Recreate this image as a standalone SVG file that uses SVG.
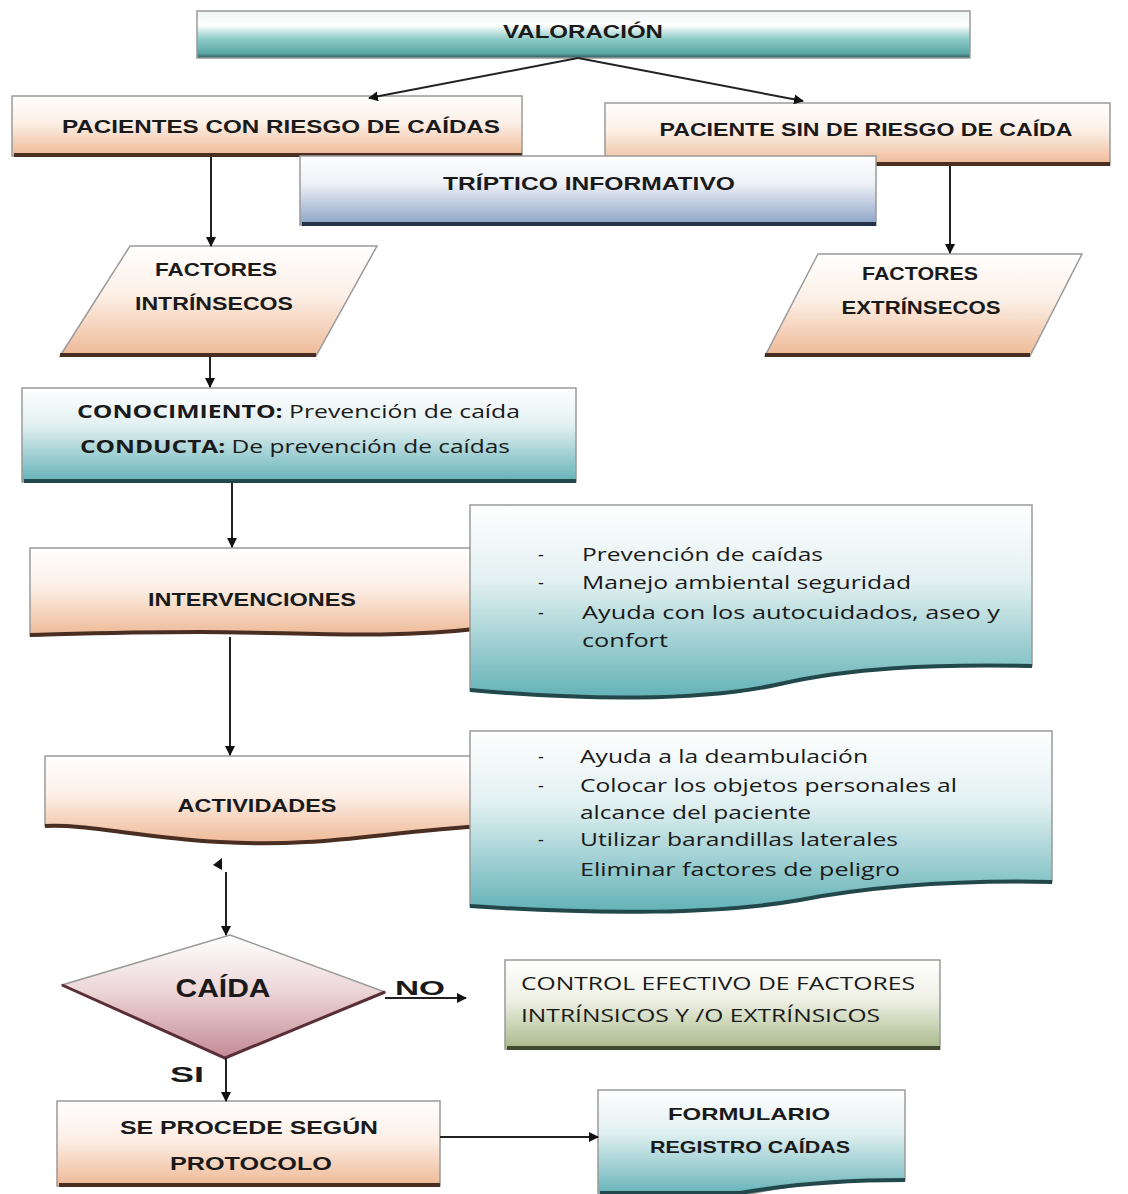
<svg xmlns="http://www.w3.org/2000/svg" width="1128" height="1194" viewBox="0 0 1128 1194">
<defs>
<linearGradient id="peach" x1="0" y1="0" x2="0" y2="1">
<stop offset="0" stop-color="#ffffff"/><stop offset="0.45" stop-color="#fcefe6"/><stop offset="1" stop-color="#eeb996"/>
</linearGradient>
<linearGradient id="teal" x1="0" y1="0" x2="0" y2="1">
<stop offset="0" stop-color="#ffffff"/><stop offset="0.4" stop-color="#e2f0f1"/><stop offset="1" stop-color="#63b2b7"/>
</linearGradient>
<linearGradient id="bar" x1="0" y1="0" x2="0" y2="1">
<stop offset="0" stop-color="#eef5f4"/><stop offset="0.3" stop-color="#ffffff"/><stop offset="0.6" stop-color="#8ccac6"/><stop offset="0.9" stop-color="#5aa8a6"/><stop offset="1" stop-color="#2f5a5e"/>
</linearGradient>
<linearGradient id="slate" x1="0" y1="0" x2="0" y2="1">
<stop offset="0" stop-color="#ffffff"/><stop offset="0.4" stop-color="#eef1f6"/><stop offset="1" stop-color="#8aa2c6"/>
</linearGradient>
<linearGradient id="pink" x1="0" y1="0" x2="0" y2="1">
<stop offset="0" stop-color="#ffffff"/><stop offset="0.45" stop-color="#ecd6d8"/><stop offset="1" stop-color="#c48a96"/>
</linearGradient>
<linearGradient id="olive" x1="0" y1="0" x2="0" y2="1">
<stop offset="0" stop-color="#ffffff"/><stop offset="0.45" stop-color="#eef0e4"/><stop offset="1" stop-color="#a8b98a"/>
</linearGradient>
<marker id="ah" viewBox="0 0 10 10" refX="9" refY="5" markerWidth="5" markerHeight="5" orient="auto-start-reverse">
<path d="M0,0 L10,5 L0,10 Z" fill="#111"/>
</marker>
</defs>
<style>
.box{stroke:#9a9a9a;stroke-width:1.5}
.edgeB{fill:none;stroke:#4a2e22;stroke-width:4}
.edgeT{fill:none;stroke:#22484c;stroke-width:4}
.edgeS{fill:none;stroke:#24334a;stroke-width:4}
.edgeG{fill:none;stroke:#3f4a30;stroke-width:4}
.edgeP{fill:none;stroke:#5a2e36;stroke-width:3}
.t{font-family:"Liberation Sans",Arial,sans-serif;font-weight:bold;fill:#1a1a1a;text-anchor:middle}
.n{font-family:"Open Sans","Liberation Sans",sans-serif;fill:#1a1a1a}
.c{stroke:#222;stroke-width:2;fill:none}
</style>
<rect width="1128" height="1194" fill="#ffffff"/>

<g id="valoracion">
<rect x="197" y="11" width="773" height="47" fill="url(#bar)" class="box"/>
<text class="t" x="583" y="38" font-size="18" textLength="160" lengthAdjust="spacingAndGlyphs">VALORACIÓN</text>
</g>

<g id="pacientes-con-riesgo">
<rect x="12" y="96" width="510" height="60" fill="url(#peach)" class="box"/>
<path class="edgeB" d="M14,155 H522"/>
<text class="t" x="281" y="133" font-size="19" textLength="438" lengthAdjust="spacingAndGlyphs">PACIENTES  CON  RIESGO  DE  CAÍDAS</text>
</g>

<g id="paciente-sin-riesgo">
<rect x="605" y="103" width="505" height="62" fill="url(#peach)" class="box"/>
<path class="edgeB" d="M607,164 H1110"/>
<text class="t" x="866" y="136" font-size="19" textLength="413" lengthAdjust="spacingAndGlyphs">PACIENTE SIN DE RIESGO DE CAÍDA</text>
</g>

<g id="triptico">
<rect x="300" y="156" width="576" height="69" fill="url(#slate)" class="box"/>
<path class="edgeS" d="M302,224 H876"/>
<text class="t" x="589" y="190" font-size="18" textLength="292" lengthAdjust="spacingAndGlyphs">TRÍPTICO  INFORMATIVO</text>
</g>

<g id="factores-intrinsecos">
<path d="M130,246 H377 L316,356 H60 Z" fill="url(#peach)" class="box"/>
<path class="edgeB" d="M60,355 H316"/>
<text class="t" x="216" y="276" font-size="18" textLength="122" lengthAdjust="spacingAndGlyphs">FACTORES</text>
<text class="t" x="214" y="310" font-size="18" textLength="158" lengthAdjust="spacingAndGlyphs">INTRÍNSECOS</text>
</g>

<g id="factores-extrinsecos">
<path d="M818,254 H1082 L1030,356 H765 Z" fill="url(#peach)" class="box"/>
<path class="edgeB" d="M765,355 H1030"/>
<text class="t" x="920" y="280" font-size="18" textLength="116" lengthAdjust="spacingAndGlyphs">FACTORES</text>
<text class="t" x="921" y="314" font-size="18" textLength="159" lengthAdjust="spacingAndGlyphs">EXTRÍNSECOS</text>
</g>

<g id="conocimiento">
<rect x="22" y="388" width="554" height="94" fill="url(#teal)" class="box"/>
<path class="edgeT" d="M24,481 H576"/>
<text class="n" x="77" y="418" font-size="18" textLength="443" lengthAdjust="spacingAndGlyphs"><tspan font-weight="bold">CONOCIMIENTO:</tspan> Prevención de caída</text>
<text class="n" x="80" y="453" font-size="18" textLength="430" lengthAdjust="spacingAndGlyphs"><tspan font-weight="bold">CONDUCTA:</tspan> De prevención de caídas</text>
</g>

<g id="intervenciones">
<path d="M30,548 H485 V628 C380,640 300,632 200,632 C120,632 70,634 30,636 Z" fill="url(#peach)" class="box"/>
<path class="edgeB" d="M30,635 C70,634 120,632 200,632 C300,632 380,640 485,628"/>
<text class="t" x="252" y="606" font-size="18" textLength="208" lengthAdjust="spacingAndGlyphs">INTERVENCIONES</text>
</g>

<g id="intervenciones-lista">
<path d="M470,505 H1032 V666 C930,664 850,668 780,684 C700,702 580,700 470,690 Z" fill="url(#teal)" class="box"/>
<path class="edgeT" d="M470,690 C580,700 700,702 780,684 C850,668 930,664 1032,666"/>
<g class="n" font-size="18">
<text x="538" y="561">-</text><text x="582" y="561" textLength="241" lengthAdjust="spacingAndGlyphs">Prevención de caídas</text>
<text x="538" y="589">-</text><text x="582" y="589" textLength="329" lengthAdjust="spacingAndGlyphs">Manejo ambiental seguridad</text>
<text x="538" y="619">-</text><text x="582" y="619" textLength="418" lengthAdjust="spacingAndGlyphs">Ayuda con los autocuidados, aseo y</text>
<text x="582" y="647" textLength="86" lengthAdjust="spacingAndGlyphs">confort</text>
</g>
</g>

<g id="actividades">
<path d="M45,756 H485 V826 C380,832 320,848 220,842 C140,838 90,824 45,826 Z" fill="url(#peach)" class="box"/>
<path class="edgeB" d="M45,826 C90,824 140,838 220,842 C320,848 380,832 485,826"/>
<text class="t" x="257" y="812" font-size="18" textLength="159" lengthAdjust="spacingAndGlyphs">ACTIVIDADES</text>
</g>

<g id="actividades-lista">
<path d="M470,731 H1052 V882 C960,880 880,885 800,900 C720,914 600,915 470,906 Z" fill="url(#teal)" class="box"/>
<path class="edgeT" d="M470,906 C600,915 720,914 800,900 C880,885 960,880 1052,882"/>
<g class="n" font-size="18">
<text x="538" y="763">-</text><text x="580" y="763" textLength="288" lengthAdjust="spacingAndGlyphs">Ayuda a la deambulación</text>
<text x="538" y="792">-</text><text x="580" y="792" textLength="377" lengthAdjust="spacingAndGlyphs">Colocar los objetos personales al</text>
<text x="580" y="819" textLength="231" lengthAdjust="spacingAndGlyphs">alcance del paciente</text>
<text x="538" y="846">-</text><text x="580" y="846" textLength="318" lengthAdjust="spacingAndGlyphs">Utilizar barandillas laterales</text>
<text x="580" y="876" textLength="320" lengthAdjust="spacingAndGlyphs">Eliminar factores de  peligro</text>
</g>
</g>

<g id="caida">
<path d="M230,935 L385,992 L225,1058 L62,985 Z" fill="url(#pink)" class="box"/>
<path class="edgeP" d="M385,992 L225,1058 L62,985"/>
<text class="t" x="223" y="997" font-size="25" textLength="95" lengthAdjust="spacingAndGlyphs">CAÍDA</text>
</g>

<g id="control">
<rect x="505" y="960" width="435" height="89" fill="url(#olive)" class="box"/>
<path class="edgeG" d="M507,1048 H940"/>
<text class="n" x="521" y="990" font-size="18" textLength="394" lengthAdjust="spacingAndGlyphs">CONTROL EFECTIVO DE FACTORES</text>
<text class="n" x="521" y="1022" font-size="18" textLength="359" lengthAdjust="spacingAndGlyphs">INTRÍNSICOS Y /O EXTRÍNSICOS</text>
</g>

<g id="protocolo">
<rect x="57" y="1101" width="383" height="85" fill="url(#peach)" class="box"/>
<path class="edgeB" d="M59,1185 H440"/>
<text class="t" x="249" y="1134" font-size="18" textLength="258" lengthAdjust="spacingAndGlyphs">SE PROCEDE SEGÚN</text>
<text class="t" x="251" y="1170" font-size="18" textLength="162" lengthAdjust="spacingAndGlyphs">PROTOCOLO</text>
</g>

<g id="formulario">
<path d="M598,1090 H905 V1180 C850,1180 800,1184 760,1192 L740,1196 H598 Z" fill="url(#teal)" class="box"/>
<path class="edgeT" d="M600,1193 H740 C780,1186 840,1180 905,1180"/>
<text class="t" x="749" y="1120" font-size="17" textLength="162" lengthAdjust="spacingAndGlyphs">FORMULARIO</text>
<text class="t" x="750" y="1153" font-size="17" textLength="200" lengthAdjust="spacingAndGlyphs">REGISTRO CAÍDAS</text>
</g>

<g id="connectors">
<path class="c" d="M578,58 L369,98" marker-end="url(#ah)"/>
<path class="c" d="M578,58 L803,101" marker-end="url(#ah)"/>
<path class="c" d="M211,157 V246" marker-end="url(#ah)"/>
<path class="c" d="M950,166 V253" marker-end="url(#ah)"/>
<path class="c" d="M210,356 V387" marker-end="url(#ah)"/>
<path class="c" d="M232,483 V547" marker-end="url(#ah)"/>
<path class="c" d="M230,637 V755" marker-end="url(#ah)"/>
<path d="M213,865 L222,858 L222,870 Z" fill="#111"/>
<path class="c" d="M226,872 V935" marker-end="url(#ah)"/>
<path class="c" d="M385,998 L466,998" marker-end="url(#ah)"/>
<text class="t" x="420" y="995" font-size="21" textLength="50" lengthAdjust="spacingAndGlyphs">NO</text>
<text class="t" x="187" y="1082" font-size="22" textLength="34" lengthAdjust="spacingAndGlyphs">SI</text>
<path class="c" d="M226,1058 V1101" marker-end="url(#ah)"/>
<path class="c" d="M440,1137 H598" marker-end="url(#ah)"/>
</g>
</svg>
